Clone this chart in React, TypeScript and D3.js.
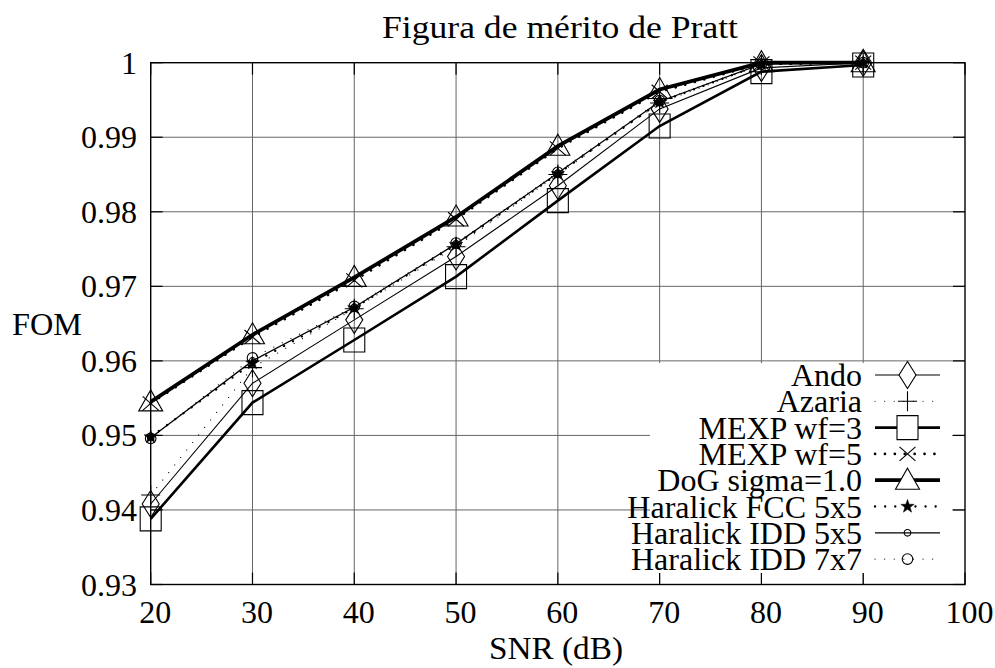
import React, { useEffect, useRef } from 'react';
import * as d3 from 'd3';

// SNR values (dB) on the x axis
const snr = [20, 30, 40, 50, 60, 70, 80, 90];

// FOM per method
const ando = [0.9408, 0.957, 0.9655, 0.974, 0.9835, 0.9938, 0.9993, 1.0];
const azaria = [0.942, 0.9591, 0.967, 0.9753, 0.985, 0.9946, 0.9997, 1.0];
const mexp3 = [0.9388, 0.9544, 0.9628, 0.9713, 0.9815, 0.9915, 0.9988, 0.9997];
const mexp5 = [0.9543, 0.9632, 0.9708, 0.979, 0.9885, 0.9961, 0.9999, 1.0];
const dog = [0.9545, 0.9635, 0.9712, 0.9793, 0.9888, 0.9964, 1.0, 1.0];
const fcc = [0.9498, 0.9597, 0.9671, 0.9756, 0.9851, 0.9947, 0.9998, 1.0];
const idd5 = [0.9497, 0.96, 0.9672, 0.9757, 0.9852, 0.9948, 0.9998, 1.0];
const idd7 = [0.9496, 0.9604, 0.9673, 0.9758, 0.9853, 0.9949, 0.9998, 1.0];

const seriesNames = [
  'Ando', 'Azaria', 'MEXP wf=3', 'MEXP wf=5', 'DoG sigma=1.0',
  'Haralick FCC 5x5', 'Haralick IDD 5x5', 'Haralick IDD 7x7',
];
const seriesValues = [ando, azaria, mexp3, mexp5, dog, fcc, idd5, idd7];

const xTicks = [20, 30, 40, 50, 60, 70, 80, 90, 100];
const yTicks = [0.93, 0.94, 0.95, 0.96, 0.97, 0.98, 0.99, 1.0];
const yTickLabels = ['0.93', '0.94', '0.95', '0.96', '0.97', '0.98', '0.99', '1'];

// line / marker style per series (dotted ones drawn as round dots)
const styles = [
  { width: 1.1, dash: null, marker: 'diamond' },
  { width: 1.1, dash: '0.1,9.5', marker: 'plus' },
  { width: 2.6, dash: null, marker: 'square' },
  { width: 2.6, dash: '0.1,9.8', marker: 'cross' },
  { width: 3.8, dash: null, marker: 'triangle' },
  { width: 2.3, dash: '0.1,10', marker: 'star' },
  { width: 1.3, dash: null, marker: 'smallcircle' },
  { width: 1.1, dash: '0.1,9.5', marker: 'circle' },
];

const FONT = '"Liberation Serif", "Times New Roman", serif';

function markerPath(type: string): string {
  switch (type) {
    case 'diamond':
      return 'M0,-13.5L8.5,0L0,13.5L-8.5,0Z';
    case 'plus':
      return 'M-9.5,0H9.5M0,-10V10';
    case 'square':
      return 'M-10.5,-12H10.5V12H-10.5Z';
    case 'cross':
      return 'M-8,-7L8,7M-8,7L8,-7';
    case 'triangle':
      return 'M0,-12L12,9L-12,9Z';
    case 'star': {
      const pts: string[] = [];
      for (let i = 0; i < 10; i++) {
        const r = i % 2 === 0 ? 7 : 2.8;
        const a = -Math.PI / 2 + (i * Math.PI) / 5;
        pts.push(`${(r * Math.cos(a)).toFixed(2)},${(r * Math.sin(a)).toFixed(2)}`);
      }
      return 'M' + pts.join('L') + 'Z';
    }
    case 'smallcircle':
      return d3.arc()({ innerRadius: 0, outerRadius: 3.3, startAngle: 0, endAngle: 2 * Math.PI }) as string;
    case 'circle':
      return d3.arc()({ innerRadius: 0, outerRadius: 5.3, startAngle: 0, endAngle: 2 * Math.PI }) as string;
  }
  return '';
}

const Chart: React.FC = () => {
  const svgRef = useRef<SVGSVGElement>(null);

  useEffect(() => {
    if (!svgRef.current) return;
    document.body.style.margin = '0';

    const width = 995;
    const height = 668;
    const left = 150.7;
    const right = 965;
    const top = 62.7;
    const bottom = 584.5;

    const svg = d3.select(svgRef.current)
      .attr('width', width)
      .attr('height', height)
      .attr('viewBox', `0 0 ${width} ${height}`);
    svg.selectAll('*').remove();

    svg.append('rect').attr('width', width).attr('height', height).attr('fill', 'white');

    const x = d3.scaleLinear().domain([20, 100]).range([left, right]);
    const y = d3.scaleLinear().domain([0.93, 1.0]).range([bottom, top]);

    // grid
    const grid = svg.append('g').attr('stroke', '#666').attr('stroke-width', 1);
    xTicks.slice(1, -1).forEach(t => {
      grid.append('line').attr('x1', x(t)).attr('x2', x(t)).attr('y1', top).attr('y2', bottom);
    });
    yTicks.slice(1, -1).forEach(t => {
      grid.append('line').attr('x1', left).attr('x2', right).attr('y1', y(t)).attr('y2', y(t));
    });

    // ticks on all four sides
    const tickLen = 12;
    const ticks = svg.append('g').attr('stroke', 'black').attr('stroke-width', 1.2);
    xTicks.forEach(t => {
      ticks.append('line').attr('x1', x(t)).attr('x2', x(t)).attr('y1', bottom).attr('y2', bottom - tickLen);
      ticks.append('line').attr('x1', x(t)).attr('x2', x(t)).attr('y1', top).attr('y2', top + tickLen);
    });
    yTicks.forEach(t => {
      ticks.append('line').attr('x1', left).attr('x2', left + tickLen).attr('y1', y(t)).attr('y2', y(t));
      ticks.append('line').attr('x1', right).attr('x2', right - tickLen).attr('y1', y(t)).attr('y2', y(t));
    });

    // border
    svg.append('rect')
      .attr('x', left).attr('y', top)
      .attr('width', right - left).attr('height', bottom - top)
      .attr('fill', 'none').attr('stroke', 'black').attr('stroke-width', 1.4);

    // tick labels
    const labels = svg.append('g').attr('font-family', FONT).attr('font-size', 32).attr('fill', 'black');
    xTicks.forEach(t => {
      labels.append('text')
        .attr('x', x(t) + 4.5).attr('y', 623)
        .attr('text-anchor', 'middle')
        .text(String(t));
    });
    yTicks.forEach((t, i) => {
      labels.append('text')
        .attr('x', 137).attr('y', y(t) + 11)
        .attr('text-anchor', 'end')
        .text(yTickLabels[i]);
    });

    // axis titles and title
    labels.append('text').attr('x', 556).attr('y', 659).attr('text-anchor', 'middle')
      .attr('textLength', 134).attr('lengthAdjust', 'spacingAndGlyphs').text('SNR (dB)');
    labels.append('text').attr('x', 12).attr('y', 335)
      .attr('textLength', 70).attr('lengthAdjust', 'spacingAndGlyphs').text('FOM');
    labels.append('text').attr('x', 560).attr('y', 38).attr('text-anchor', 'middle')
      .attr('textLength', 356).attr('lengthAdjust', 'spacingAndGlyphs')
      .text('Figura de mérito de Pratt');

    // series
    const line = d3.line<number>().x((_, i) => x(snr[i])).y(d => y(d));
    seriesValues.forEach((vals, si) => {
      const st = styles[si];
      const g = svg.append('g');
      g.append('path')
        .attr('d', line(vals) as string)
        .attr('fill', 'none')
        .attr('stroke', 'black')
        .attr('stroke-width', st.width)
        .attr('stroke-linecap', st.dash ? 'round' : 'butt')
        .attr('stroke-linejoin', 'miter')
        .attr('stroke-dasharray', st.dash);
      const filled = st.marker === 'star';
      g.selectAll('path.m')
        .data(vals)
        .join('path')
        .attr('class', 'm')
        .attr('transform', (d, i) => `translate(${x(snr[i])},${y(d)})`)
        .attr('d', markerPath(st.marker))
        .attr('fill', filled ? 'black' : 'none')
        .attr('stroke', 'black')
        .attr('stroke-width', filled ? 0.5 : 1.1);
    });

    // legend (opaque)
    svg.append('rect')
      .attr('x', 650).attr('y', 363)
      .attr('width', 302).attr('height', 210)
      .attr('fill', 'white');
    const legend = svg.append('g').attr('font-family', FONT).attr('font-size', 32);
    seriesNames.forEach((name, i) => {
      const ly = 375 + i * 26.3;
      const st = styles[i];
      legend.append('text')
        .attr('x', 862).attr('y', ly + 11)
        .attr('text-anchor', 'end')
        .text(name);
      legend.append('line')
        .attr('x1', 875).attr('x2', 940).attr('y1', ly).attr('y2', ly)
        .attr('stroke', 'black')
        .attr('stroke-width', st.width)
        .attr('stroke-linecap', st.dash ? 'round' : 'butt')
        .attr('stroke-dasharray', st.dash);
      const filled = st.marker === 'star';
      legend.append('path')
        .attr('transform', `translate(907.5,${ly})`)
        .attr('d', markerPath(st.marker))
        .attr('fill', filled ? 'black' : (st.marker === 'triangle' || st.marker === 'square' || st.marker === 'diamond' ? 'white' : 'none'))
        .attr('stroke', 'black')
        .attr('stroke-width', filled ? 0.5 : 1.1);
    });
  }, []);

  return <svg ref={svgRef} style={{ display: 'block' }}></svg>;
};

export default function App() {
  return <Chart />;
}
